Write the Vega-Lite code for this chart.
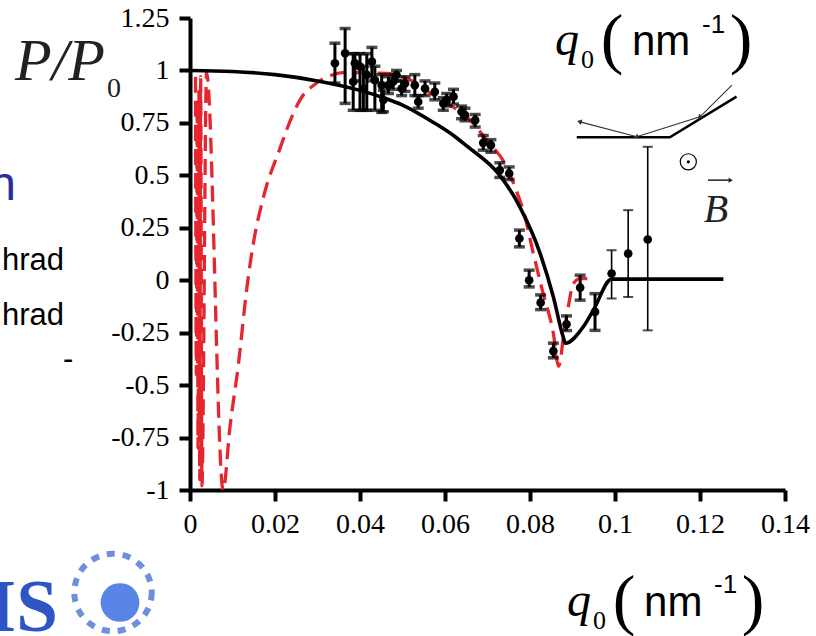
{
  "$schema": "https://vega.github.io/schema/vega-lite/v6.json",
  "width": 595,
  "height": 472,
  "autosize": {"type": "none"},
  "padding": {"left": 190, "top": 18, "right": 31, "bottom": 146},
  "background": "white",
  "config": {
    "view": {"stroke": null},
    "axis": {
      "domainColor": "black", "domainWidth": 4, "tickColor": "black", "tickWidth": 4, "tickSize": 11,
      "labelFont": "Liberation Serif", "labelFontSize": 28, "labelColor": "black", "grid": false,
      "labelOverlap": false, "labelFlush": false
    },
    "axisY": {"labelFont": "Liberation Serif", "labelFontSize": 28, "tickWidth": 4, "domainWidth": 4}
  },
  "datasets": {
    "black": [
      {"x": 0, "y": 1.0}, {"x": 0.01, "y": 0.995}, {"x": 0.02, "y": 0.98}, {"x": 0.03, "y": 0.95},
      {"x": 0.04, "y": 0.905}, {"x": 0.0455, "y": 0.87}, {"x": 0.05, "y": 0.835}, {"x": 0.0573, "y": 0.752},
      {"x": 0.062, "y": 0.69}, {"x": 0.0651, "y": 0.64}, {"x": 0.0729, "y": 0.5}, {"x": 0.0776, "y": 0.35},
      {"x": 0.0824, "y": 0.127}, {"x": 0.0855, "y": -0.08}, {"x": 0.0878, "y": -0.27}, {"x": 0.0883, "y": -0.3},
      {"x": 0.0925, "y": -0.223}, {"x": 0.0949, "y": -0.143}, {"x": 0.0992, "y": 0.005}, {"x": 0.1255, "y": 0.005}
    ],
    "red": [
      {"x": 0.0013, "y": 0.97}, {"x": 0.0015, "y": -0.45}, {"x": 0.0017, "y": 0.85}, {"x": 0.0019, "y": -0.8},
      {"x": 0.0021, "y": 0.9}, {"x": 0.0023, "y": -0.95}, {"x": 0.0025, "y": 0.97}, {"x": 0.0028, "y": -0.98},
      {"x": 0.0039, "y": 0.99}, {"x": 0.0078, "y": -1.0}, {"x": 0.0094, "y": -0.7}, {"x": 0.0114, "y": -0.4},
      {"x": 0.0133, "y": -0.05}, {"x": 0.0149, "y": 0.175}, {"x": 0.0172, "y": 0.39}, {"x": 0.0212, "y": 0.63},
      {"x": 0.0243, "y": 0.795}, {"x": 0.0259, "y": 0.86}, {"x": 0.0298, "y": 0.94}, {"x": 0.033, "y": 0.975},
      {"x": 0.036, "y": 0.99}, {"x": 0.0463, "y": 0.986}, {"x": 0.0518, "y": 0.954}, {"x": 0.0588, "y": 0.86},
      {"x": 0.0651, "y": 0.78}, {"x": 0.0698, "y": 0.668}, {"x": 0.0745, "y": 0.54}, {"x": 0.0769, "y": 0.42},
      {"x": 0.0784, "y": 0.334}, {"x": 0.0808, "y": 0.127}, {"x": 0.0831, "y": -0.064}, {"x": 0.0855, "y": -0.254},
      {"x": 0.0867, "y": -0.41}, {"x": 0.0882, "y": -0.22}, {"x": 0.089, "y": -0.127}, {"x": 0.0902, "y": -0.016},
      {"x": 0.0918, "y": 0.008}, {"x": 0.0949, "y": 0.008}
    ],
    "pts": [
      {"x": 0.0341, "y": 1.034, "lo": 0.94, "hi": 1.13},
      {"x": 0.0365, "y": 1.082, "lo": 0.843, "hi": 1.2},
      {"x": 0.0384, "y": 0.946, "lo": 0.81, "hi": 1.08},
      {"x": 0.0388, "y": 1.034, "lo": 0.95, "hi": 1.08},
      {"x": 0.04, "y": 1.018, "lo": 0.81, "hi": 1.08},
      {"x": 0.0408, "y": 0.914, "lo": 0.81, "hi": 1.02},
      {"x": 0.0416, "y": 0.978, "lo": 0.81, "hi": 1.08},
      {"x": 0.0428, "y": 1.042, "lo": 0.95, "hi": 1.11},
      {"x": 0.0435, "y": 0.954, "lo": 0.81, "hi": 1.02},
      {"x": 0.0451, "y": 0.93, "lo": 0.8, "hi": 0.98},
      {"x": 0.0455, "y": 0.859, "lo": 0.803, "hi": 0.906},
      {"x": 0.0467, "y": 0.93, "lo": 0.89, "hi": 0.97},
      {"x": 0.0478, "y": 0.946, "lo": 0.91, "hi": 0.98},
      {"x": 0.0486, "y": 0.978, "lo": 0.95, "hi": 1.0},
      {"x": 0.0498, "y": 0.914, "lo": 0.88, "hi": 0.95},
      {"x": 0.0506, "y": 0.938, "lo": 0.9, "hi": 0.97},
      {"x": 0.0529, "y": 0.93, "lo": 0.88, "hi": 0.98},
      {"x": 0.0537, "y": 0.851, "lo": 0.82, "hi": 0.88},
      {"x": 0.0553, "y": 0.914, "lo": 0.88, "hi": 0.95},
      {"x": 0.0576, "y": 0.898, "lo": 0.86, "hi": 0.94},
      {"x": 0.0596, "y": 0.843, "lo": 0.81, "hi": 0.87},
      {"x": 0.0604, "y": 0.859, "lo": 0.83, "hi": 0.89},
      {"x": 0.062, "y": 0.875, "lo": 0.84, "hi": 0.91},
      {"x": 0.0639, "y": 0.803, "lo": 0.77, "hi": 0.83},
      {"x": 0.0647, "y": 0.787, "lo": 0.76, "hi": 0.82},
      {"x": 0.0671, "y": 0.763, "lo": 0.73, "hi": 0.79},
      {"x": 0.069, "y": 0.655, "lo": 0.62, "hi": 0.69},
      {"x": 0.0708, "y": 0.644, "lo": 0.61, "hi": 0.67},
      {"x": 0.0729, "y": 0.525, "lo": 0.49, "hi": 0.56},
      {"x": 0.0751, "y": 0.509, "lo": 0.48, "hi": 0.54},
      {"x": 0.0775, "y": 0.199, "lo": 0.159, "hi": 0.239},
      {"x": 0.0798, "y": 0.0, "lo": -0.032, "hi": 0.048},
      {"x": 0.0825, "y": -0.107, "lo": -0.14, "hi": -0.07},
      {"x": 0.0855, "y": -0.338, "lo": -0.37, "hi": -0.3},
      {"x": 0.0886, "y": -0.21, "lo": -0.24, "hi": -0.17},
      {"x": 0.0918, "y": -0.035, "lo": -0.095, "hi": 0.024},
      {"x": 0.0953, "y": -0.151, "lo": -0.239, "hi": -0.064}
    ],
    "pts2": [
      {"x": 0.0992, "y": 0.032, "lo": -0.087, "hi": 0.143},
      {"x": 0.1031, "y": 0.127, "lo": -0.08, "hi": 0.334},
      {"x": 0.1077, "y": 0.194, "lo": -0.239, "hi": 0.636}
    ]
  },
  "encoding": {
    "x": {"field": "x", "type": "quantitative", "scale": {"domain": [0, 0.14], "nice": false, "zero": false},
      "axis": {"title": null, "values": [0, 0.02, 0.04, 0.06, 0.08, 0.1, 0.12, 0.14], "labelExpr": "'' + datum.value", "labelPadding": 9, "labelFont": "Liberation Serif", "labelFontSize": 28}},
    "y": {"field": "y", "type": "quantitative", "scale": {"domain": [-1, 1.25], "nice": false, "zero": false},
      "axis": {"title": null, "values": [-1, -0.75, -0.5, -0.25, 0, 0.25, 0.5, 0.75, 1, 1.25], "labelExpr": "'' + datum.value", "labelPadding": 10, "labelFont": "Liberation Serif", "labelFontSize": 28, "tickWidth": 4, "domainWidth": 4}}
  },
  "layer": [
    {"data": {"name": "red"}, "mark": {"type": "line", "color": "#e6262e", "strokeWidth": 3.3, "strokeDash": [16, 8], "interpolate": "monotone"}},
    {"data": {"name": "black"}, "mark": {"type": "line", "color": "black", "strokeWidth": 3.6, "interpolate": "monotone"}},
    {"data": {"name": "pts"}, "mark": {"type": "rule", "color": "black", "strokeWidth": 3},
      "encoding": {"y": {"field": "lo", "type": "quantitative", "scale": {"domain": [-1, 1.25], "nice": false, "zero": false},
        "axis": {"title": null, "values": [-1, -0.75, -0.5, -0.25, 0, 0.25, 0.5, 0.75, 1, 1.25], "labelExpr": "'' + datum.value", "labelPadding": 10, "labelFont": "Liberation Serif", "labelFontSize": 28, "tickWidth": 4, "domainWidth": 4}}, "y2": {"field": "hi"}}},
    {"data": {"name": "pts"}, "mark": {"type": "tick", "orient": "horizontal", "color": "black", "size": 11, "thickness": 3.5},
      "encoding": {"y": {"field": "lo", "type": "quantitative", "scale": {"domain": [-1, 1.25], "nice": false, "zero": false},
        "axis": {"title": null, "values": [-1, -0.75, -0.5, -0.25, 0, 0.25, 0.5, 0.75, 1, 1.25], "labelExpr": "'' + datum.value", "labelPadding": 10, "labelFont": "Liberation Serif", "labelFontSize": 28, "tickWidth": 4, "domainWidth": 4}}}},
    {"data": {"name": "pts"}, "mark": {"type": "tick", "orient": "horizontal", "color": "black", "size": 11, "thickness": 3.5},
      "encoding": {"y": {"field": "hi", "type": "quantitative", "scale": {"domain": [-1, 1.25], "nice": false, "zero": false},
        "axis": {"title": null, "values": [-1, -0.75, -0.5, -0.25, 0, 0.25, 0.5, 0.75, 1, 1.25], "labelExpr": "'' + datum.value", "labelPadding": 10, "labelFont": "Liberation Serif", "labelFontSize": 28, "tickWidth": 4, "domainWidth": 4}}}},
    {"data": {"name": "pts"}, "mark": {"type": "point", "filled": true, "color": "black", "size": 75, "opacity": 1}},
    {"data": {"name": "pts2"}, "mark": {"type": "rule", "color": "black", "strokeWidth": 1.6},
      "encoding": {"y": {"field": "lo", "type": "quantitative", "scale": {"domain": [-1, 1.25], "nice": false, "zero": false},
        "axis": {"title": null, "values": [-1, -0.75, -0.5, -0.25, 0, 0.25, 0.5, 0.75, 1, 1.25], "labelExpr": "'' + datum.value", "labelPadding": 10, "labelFont": "Liberation Serif", "labelFontSize": 28, "tickWidth": 4, "domainWidth": 4}}, "y2": {"field": "hi"}}},
    {"data": {"name": "pts2"}, "mark": {"type": "tick", "orient": "horizontal", "color": "black", "size": 10, "thickness": 2},
      "encoding": {"y": {"field": "lo", "type": "quantitative", "scale": {"domain": [-1, 1.25], "nice": false, "zero": false},
        "axis": {"title": null, "values": [-1, -0.75, -0.5, -0.25, 0, 0.25, 0.5, 0.75, 1, 1.25], "labelExpr": "'' + datum.value", "labelPadding": 10, "labelFont": "Liberation Serif", "labelFontSize": 28, "tickWidth": 4, "domainWidth": 4}}}},
    {"data": {"name": "pts2"}, "mark": {"type": "tick", "orient": "horizontal", "color": "black", "size": 10, "thickness": 2},
      "encoding": {"y": {"field": "hi", "type": "quantitative", "scale": {"domain": [-1, 1.25], "nice": false, "zero": false},
        "axis": {"title": null, "values": [-1, -0.75, -0.5, -0.25, 0, 0.25, 0.5, 0.75, 1, 1.25], "labelExpr": "'' + datum.value", "labelPadding": 10, "labelFont": "Liberation Serif", "labelFontSize": 28, "tickWidth": 4, "domainWidth": 4}}}},
    {"data": {"name": "pts2"}, "mark": {"type": "point", "filled": true, "color": "black", "size": 75, "opacity": 1}},
    {"data": {"values": [{"x": 0.091, "y": 0.681}, {"x": 0.1129, "y": 0.681}, {"x": 0.1286, "y": 0.875}]},
      "mark": {"type": "line", "color": "black", "strokeWidth": 2.5}},
    {"data": {"values": [{"x": 0.0918, "y": 0.755}, {"x": 0.1051, "y": 0.684}, {"x": 0.12, "y": 0.779}, {"x": 0.1275, "y": 0.93}]},
      "mark": {"type": "line", "color": "#333333", "strokeWidth": 1.2}},
    {"data": {"values": [{"x": 0.12, "y": 0.779}]}, "mark": {"type": "point", "shape": "triangle", "angle": 225, "filled": true, "color": "#333333", "size": 30, "opacity": 1}},
    {"data": {"values": [{"x": 0.1051, "y": 0.684}]}, "mark": {"type": "point", "shape": "triangle", "angle": 252, "filled": true, "color": "#333333", "size": 30, "opacity": 1}},
    {"data": {"values": [{"x": 0.0918, "y": 0.755}]}, "mark": {"type": "point", "shape": "triangle", "angle": 285, "filled": true, "color": "#333333", "size": 30, "opacity": 1}},
    {"data": {"values": [{"x": 0.11725, "y": 0.5644}]}, "mark": {"type": "point", "shape": "circle", "filled": false, "color": "black", "strokeWidth": 1.2, "size": 260, "opacity": 1}},
    {"data": {"values": [{"x": 0.11725, "y": 0.5644}]}, "mark": {"type": "point", "shape": "circle", "filled": true, "color": "black", "size": 10, "opacity": 1}},
    {"data": {"values": [{"x": 0.12188, "y": 0.4771}, {"x": 0.12706, "y": 0.4771}]},
      "mark": {"type": "line", "color": "#222222", "strokeWidth": 1.5}},
    {"data": {"values": [{"x": 0.12706, "y": 0.4771}]}, "mark": {"type": "point", "shape": "triangle", "angle": 90, "filled": true, "color": "#222222", "size": 25, "opacity": 1}},
    {"data": {"values": [{"x": 0.12376, "y": 0.2767, "t": "B"}]},
      "mark": {"type": "text", "font": "Liberation Serif", "fontStyle": "italic", "fontSize": 40, "align": "center", "baseline": "alphabetic", "color": "#222222"},
      "encoding": {"text": {"field": "t"}}},
    {"data": {"values": [{"x": 0.08588, "y": 1.0735, "t": "q"}, {"x": 0.08871, "y": -1.5983, "t": "q"}]},
      "mark": {"type": "text", "font": "Liberation Serif", "fontStyle": "italic", "fontSize": 48, "align": "left", "baseline": "alphabetic", "color": "black"},
      "encoding": {"text": {"field": "t"}}},
    {"data": {"values": [{"x": 0.092, "y": 1.0115, "t": "0"}, {"x": 0.09482, "y": -1.6603, "t": "0"}]},
      "mark": {"type": "text", "font": "Liberation Serif", "fontSize": 26, "align": "left", "baseline": "alphabetic", "color": "black"},
      "encoding": {"text": {"field": "t"}}},
    {"data": {"values": [{"x": 0.09929, "y": 1.0448, "t": "("}, {"x": 0.12965, "y": 1.0448, "t": ")"}, {"x": 0.10212, "y": -1.6269, "t": "("}, {"x": 0.13247, "y": -1.6269, "t": ")"}]},
      "mark": {"type": "text", "font": "Liberation Serif", "fontSize": 68, "align": "center", "baseline": "alphabetic", "color": "black"},
      "encoding": {"text": {"field": "t"}}},
    {"data": {"values": [{"x": 0.104, "y": 1.0735, "t": "nm"}, {"x": 0.10683, "y": -1.5983, "t": "nm"}]},
      "mark": {"type": "text", "font": "Liberation Sans", "fontSize": 42, "align": "left", "baseline": "alphabetic", "color": "black"},
      "encoding": {"text": {"field": "t"}}},
    {"data": {"values": [{"x": 0.12047, "y": 1.1784, "t": "-1"}, {"x": 0.12329, "y": -1.4933, "t": "-1"}]},
      "mark": {"type": "text", "font": "Liberation Sans", "fontSize": 26, "align": "left", "baseline": "alphabetic", "color": "black"},
      "encoding": {"text": {"field": "t"}}},
    {"data": {"values": [{"x": -0.04118, "y": 0.9542, "t": "P/P"}]},
      "mark": {"type": "text", "font": "Liberation Serif", "fontStyle": "italic", "fontSize": 60, "align": "left", "baseline": "alphabetic", "color": "#222222"},
      "encoding": {"text": {"field": "t"}}},
    {"data": {"values": [{"x": -0.01953, "y": 0.8731, "t": "0"}]},
      "mark": {"type": "text", "font": "Liberation Serif", "fontSize": 28, "align": "left", "baseline": "alphabetic", "color": "#222222"},
      "encoding": {"text": {"field": "t"}}},
    {"data": {"values": [{"x": -0.04094, "y": 0.3817, "t": "n"}]},
      "mark": {"type": "text", "font": "Liberation Sans", "fontSize": 48, "align": "right", "baseline": "alphabetic", "color": "#2b2f9e"},
      "encoding": {"text": {"field": "t"}}},
    {"data": {"values": [{"x": -0.02965, "y": 0.0477, "t": "hrad"}, {"x": -0.02965, "y": -0.2147, "t": "hrad"}]},
      "mark": {"type": "text", "font": "Liberation Sans", "fontSize": 31, "align": "right", "baseline": "alphabetic", "color": "black"},
      "encoding": {"text": {"field": "t"}}},
    {"data": {"values": [{"x": -0.02988, "y": -0.4246, "t": "-"}]},
      "mark": {"type": "text", "font": "Liberation Sans", "fontSize": 31, "align": "left", "baseline": "alphabetic", "color": "black"},
      "encoding": {"text": {"field": "t"}}},
    {"data": {"values": [{"x": -0.03106, "y": -1.6698, "t": "IS"}]},
      "mark": {"type": "text", "font": "Liberation Serif", "fontWeight": "bold", "fontSize": 75, "align": "right", "baseline": "alphabetic", "color": "#2f55c4"},
      "encoding": {"text": {"field": "t"}}},
    {"data": {"values": [{"x": -0.01812, "y": -1.4885}]},
      "mark": {"type": "point", "shape": "circle", "filled": false, "color": "#4a74d0", "strokeWidth": 6, "strokeDash": [8, 8], "size": 6000, "opacity": 0.8}},
    {"data": {"values": [{"x": -0.01647, "y": -1.5363}]},
      "mark": {"type": "point", "shape": "circle", "filled": true, "color": "#3d6fe0", "size": 1500, "opacity": 0.85}}
  ]
}
